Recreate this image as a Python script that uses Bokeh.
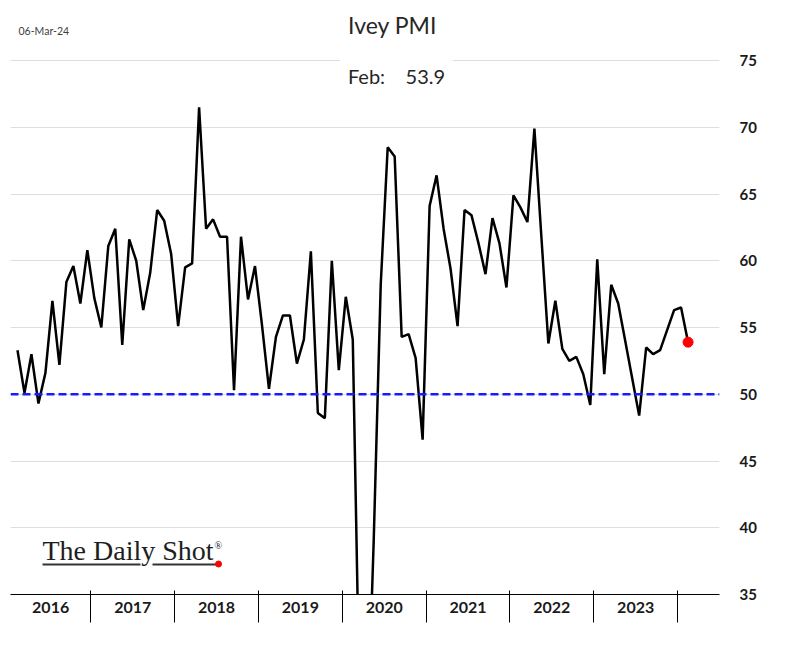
from bokeh.plotting import figure
from bokeh.models import FixedTicker, CustomJSTickFormatter, Span, Label, Range1d
from bokeh.embed import file_html
from bokeh.resources import INLINE

# ---- data (Ivey PMI, seasonally adjusted, monthly) ----
start_year = 2016
start_month = 2
pmi_2016 = [53.3, 50.1, 53.0, 49.3, 51.6, 57.0, 52.2, 58.4, 59.6, 56.8, 60.8]
pmi_2017 = [57.2, 55.0, 61.1, 62.4, 53.7, 61.6, 60.0, 56.3, 59.1, 63.8, 63.0, 60.5]
pmi_2018 = [55.1, 59.5, 59.8, 71.5, 62.4, 63.1, 61.8, 61.8, 50.3, 61.8, 57.1, 59.6]
pmi_2019 = [55.2, 50.4, 54.3, 55.9, 55.9, 52.3, 54.1, 60.7, 48.6, 48.2, 60.0, 51.8]
pmi_2020 = [57.3, 54.1, 26.0, 22.8, 39.1, 58.2, 68.5, 67.8, 54.3, 54.5, 52.7, 46.6]
pmi_2021 = [64.1, 66.4, 62.4, 59.4, 55.1, 63.8, 63.4, 61.3, 59.0, 63.2, 61.3, 58.0]
pmi_2022 = [64.9, 64.0, 62.9, 69.9, 61.8, 53.8, 57.0, 53.4, 52.5, 52.8, 51.5, 49.2]
pmi_2023 = [60.1, 51.5, 58.2, 56.8, 54.0, 51.2, 48.4, 53.5, 53.0, 53.3, 54.8, 56.3]
pmi_2024 = [56.5, 53.9]

year_labels = ["2016", "2017", "2018", "2019", "2020", "2021", "2022", "2023"]
y_ticks = [35, 40, 45, 50, 55, 60, 65, 70, 75]
title_text = "Ivey PMI"
date_text = "06-Mar-24"
last_label = "Feb:"
last_value_text = "53.9"

values = pmi_2016 + pmi_2017 + pmi_2018 + pmi_2019 + pmi_2020 + pmi_2021 + pmi_2022 + pmi_2023 + pmi_2024
xs = []
for i in range(len(values)):
    m = start_month - 1 + i
    xs.append(start_year + (m // 12) + ((m % 12) + 0.5) / 12.0)

x_start = start_year + (start_month - 1.5) / 12.0
x_end = 2024.5

# ---- layout geometry (page pixels) ----
FRAME_L, FRAME_R = 10, 719     # frame left / right
Y75_PX, Y35_PX = 60, 594       # where 75 and 35 sit
W, H = 780, 640
px_per_unit = (Y35_PX - Y75_PX) / 40.0
y_end = 35 + Y35_PX / px_per_unit   # frame extends to page top so texts stay inside it
px_per_year = (FRAME_R - FRAME_L) / (x_end - x_start)


def dx(X):
    return x_start + (X - FRAME_L) / px_per_year


def dy(Y):
    return 35 + (Y35_PX - Y) / px_per_unit


p = figure(width=W, height=H, x_range=Range1d(x_start, x_end), y_range=Range1d(35, y_end),
           y_axis_location="right", output_backend="svg", toolbar_location=None,
           min_border_left=FRAME_L, min_border_right=W - FRAME_R, min_border_top=0,
           min_border_bottom=H - Y35_PX)
p.outline_line_color = None
p.background_fill_color = "white"
p.border_fill_color = "white"

# grid
p.xgrid.visible = False
p.ygrid.ticker = FixedTicker(ticks=y_ticks)
p.ygrid.grid_line_color = "#dedede"
p.ygrid.grid_line_width = 1

# right axis
ya = p.yaxis[0]
ya.ticker = FixedTicker(ticks=y_ticks)
ya.axis_line_color = None
ya.major_tick_line_color = None
ya.minor_tick_line_color = None
ya.major_label_standoff = 14
ya.major_label_text_font = "Lato"
ya.major_label_text_font_style = "bold"
ya.major_label_text_font_size = "15px"
ya.major_label_text_color = "#1a1a1a"

# bottom axis with year groups
year_bounds = [float(y) for y in range(2017, 2025)]
year_centers = [(x_start + 2017) / 2.0] + [int(lbl) + 0.5 for lbl in year_labels[1:]]
xa = p.xaxis[0]
xa.ticker = FixedTicker(ticks=year_centers, minor_ticks=year_bounds)
xa.formatter = CustomJSTickFormatter(code="return Math.floor(tick).toString();")
xa.axis_line_color = "black"
xa.axis_line_width = 1
xa.major_tick_line_color = None
xa.major_tick_in = 0
xa.major_tick_out = 0
xa.minor_tick_line_color = "black"
xa.minor_tick_in = 4
xa.minor_tick_out = 28
xa.major_label_standoff = -21
xa.major_label_text_font = "Lato"
xa.major_label_text_font_style = "bold"
xa.major_label_text_font_size = "16px"
xa.major_label_text_color = "#1a1a1a"

# 50 reference line
p.add_layout(Span(location=50, dimension="width", line_color="#1a1aff", line_width=2.5, line_dash="8 4"))

# series
p.line(xs, values, line_color="black", line_width=2.5)
p.scatter([xs[-1]], [values[-1]], size=10, color="#ff0000")

# ---- texts ----
p.add_layout(Label(x=dx(392), y=dy(24.5), text=title_text,
                   text_align="center", text_baseline="middle", text_font="Lato",
                   text_font_size="23px", text_color="#262626"))
p.add_layout(Label(x=dx(18), y=dy(30), text=date_text,
                   text_align="left", text_baseline="middle", text_font="Lato",
                   text_font_size="10.5px", text_color="#404040"))
p.add_layout(Label(x=dx(396), y=dy(75.5), text=last_label + "\u00a0\u00a0\u00a0\u00a0" + last_value_text,
                   text_align="center", text_baseline="middle", text_font="Lato",
                   text_font_size="20px", text_color="#262626",
                   background_fill_color="white", background_fill_alpha=1.0,
                   border_line_color=None, padding=(8, 22)))

# logo
p.add_layout(Label(x=dx(42), y=dy(550), text="The Daily Shot",
                   text_align="left", text_baseline="middle", text_font="Liberation Serif",
                   text_font_size="28px", text_color="#1e1e1e"))
p.add_layout(Label(x=dx(214), y=dy(545), text="\u00ae",
                   text_align="left", text_baseline="middle", text_font="Liberation Serif",
                   text_font_size="10px", text_color="#1e1e1e"))
p.segment(x0=[dx(42), dx(152)], y0=[dy(564), dy(564)], x1=[dx(140), dx(216)], y1=[dy(564), dy(564)],
          line_color="#333333", line_width=2)
p.scatter([dx(218)], [dy(563.5)], size=6, color="#ff0000")

open("out.html", "w").write(file_html(p, INLINE))
